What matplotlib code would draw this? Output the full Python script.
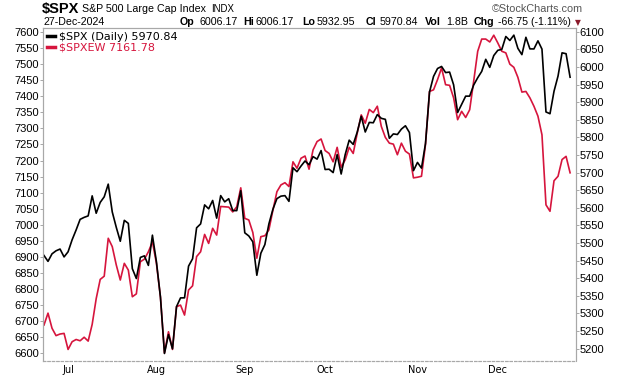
import matplotlib.pyplot as plt
import numpy as np
import pandas as pd

plt.rcParams['font.family'] = ['Liberation Sans', 'DejaVu Sans']

# trading days 21-Jun-2024 .. 27-Dec-2024
dias = pd.bdate_range('2024-06-21', '2024-12-27')
feriados = pd.to_datetime(['2024-07-04', '2024-09-02', '2024-11-28', '2024-12-25'])
dias = dias[~dias.isin(feriados)]

# $SPX close (right axis)
spx = [5464.62, 5447.87, 5469.30, 5477.90, 5482.87, 5460.48,
       5475.09, 5509.01, 5537.02, 5567.19, 5572.85, 5576.98, 5633.91, 5584.54, 5615.35, 5631.22,
       5667.20, 5588.27, 5544.59, 5505.00, 5564.41, 5555.74, 5427.13, 5399.22, 5459.10, 5463.54,
       5436.44, 5522.30,
       5446.68, 5346.56, 5186.33, 5240.03, 5199.50, 5319.31, 5344.16, 5344.39, 5434.43, 5455.21,
       5543.22, 5554.25, 5608.25, 5597.12, 5620.85, 5570.64, 5634.61, 5616.84, 5625.80, 5592.18,
       5591.96, 5648.40,
       5528.93, 5520.07, 5503.41, 5408.42, 5471.05, 5495.52, 5554.13, 5595.76, 5626.02, 5633.09,
       5634.58, 5618.26, 5713.64, 5702.55, 5718.57, 5732.93, 5722.26, 5745.37, 5738.17, 5762.48,
       5708.75, 5709.54, 5699.94, 5751.07, 5695.94, 5751.13, 5792.04, 5780.05, 5815.03, 5859.85,
       5815.26, 5842.47, 5841.47, 5864.67, 5853.98, 5851.20, 5797.42, 5809.86, 5808.12, 5823.52,
       5832.92, 5813.67, 5705.45,
       5728.80, 5712.69, 5782.76, 5929.04, 5973.10, 5995.54, 6001.35, 5983.99, 5985.38, 5949.17,
       5870.62, 5893.62, 5916.98, 5917.11, 5948.71, 5969.34, 5987.37, 6021.63, 5998.74, 6032.38,
       6047.15, 6049.88, 6086.49, 6075.11, 6090.27, 6052.85, 6034.91, 6084.19, 6051.25, 6051.09,
       6074.08, 6050.61, 5872.16, 5867.08, 5930.85, 5974.07, 6040.04, 6037.59, 5970.84]

# $SPXEW close (left axis)
spxew = [6688, 6725, 6678, 6655, 6660, 6662,
         6612, 6636, 6643, 6639, 6650, 6638, 6690, 6770, 6830, 6840,
         6958, 6932, 6875, 6828, 6880, 6859, 6776, 6785, 6885, 6893,
         6916, 6947,
         6880, 6775, 6601, 6667, 6612, 6745, 6750, 6719, 6797, 6810,
         6901, 6916, 6970, 6942, 6989, 6968, 7057, 7056, 7055, 7040,
         7056, 7115,
         7020, 7015, 6976, 6896, 6963, 6966, 6984, 7045, 7103, 7124,
         7131, 7119, 7196, 7176, 7207, 7214, 7173, 7233, 7259, 7267,
         7231, 7222, 7196, 7241, 7179, 7202, 7241, 7222, 7285, 7342,
         7316, 7359, 7349, 7369, 7306, 7272, 7254, 7251, 7218, 7254,
         7229, 7220, 7146,
         7148, 7151, 7250, 7415, 7420, 7452, 7488, 7436, 7434, 7395,
         7327, 7353, 7334, 7358, 7447, 7540, 7578, 7578, 7569, 7590,
         7566, 7540, 7535, 7500, 7490, 7459, 7413, 7415, 7395, 7369,
         7338, 7280, 7062, 7042, 7137, 7151, 7203, 7213, 7161.78]

ticks_izq = np.arange(6600, 7601, 50)
ticks_der = np.arange(5200, 6101, 50)

ROJO = '#d6153d'
GRIS = '#a8a8a8'
W, H = 620, 376

x = np.arange(len(dias))
pos_mes = [i for i in range(1, len(dias)) if dias[i].month != dias[i - 1].month]
lbl_mes = [dias[i].strftime('%b') for i in pos_mes]

fig = plt.figure(figsize=(W / 100, H / 100), dpi=100)
ax = fig.add_axes([43.3 / W, 1 - 360.5 / H, (575.7 - 43.3) / W, (360.5 - 28.3) / H])
ax2 = ax.twinx()

l_ew, = ax.plot(x, spxew, color=ROJO, lw=1.2)
l_spx, = ax2.plot(x, spx, color='black', lw=1.2)

ax.set_xlim(-0.17, 132.4)
ax.set_ylim(6577.6, 7611.5)
ax2.set_ylim(5166.4, 6109.7)

ax.set_yticks(ticks_izq)
ax2.set_yticks(ticks_der)
ax.tick_params(axis='y', length=2.2, width=0.7, color=GRIS, pad=0.8, labelsize=8)
ax2.tick_params(axis='y', length=2.2, width=0.7, color=GRIS, pad=0.8, labelsize=8)

ax.set_xticks(pos_mes)
ax.set_xticklabels(lbl_mes, family='DejaVu Sans', fontsize=7)
ax.tick_params(axis='x', length=0, pad=3)

for a in (ax, ax2):
    for s in a.spines.values():
        s.set_color(GRIS)
        s.set_linewidth(0.8)
    a.spines['bottom'].set_linestyle((0, (2, 2)))

leg = ax2.legend([l_spx, l_ew], [r'\$SPX (Daily) 5970.84', r'\$SPXEW 7161.78'],
                 loc='upper left', frameon=False, handlelength=0.7, handletextpad=0.4,
                 labelspacing=0.05, borderpad=0.1, borderaxespad=0.25,
                 prop={'family': 'DejaVu Sans', 'size': 8}, labelcolor=['black', ROJO])
for h in leg.legend_handles:
    h.set_linewidth(2.5)


def texto(px, py, s, **kw):
    fig.text(px / W, 1 - py / H, s, va='center', **kw)


# encabezado
texto(42, 9, r'\$SPX', fontsize=10.5, weight='bold')
texto(82, 9.5, 'S&P 500 Large Cap Index', fontsize=7.7)
texto(211, 9.5, 'INDX', fontsize=6.9)
texto(583, 9.5, '\u00a9StockCharts.com', fontsize=7.8, color='#555555', ha='right')

texto(43, 22, '27-Dec-2024', fontsize=7.7)
campos = [('Op', 180, '6006.17', 199), ('Hi', 243, '6006.17', 255), ('Lo', 302, '5932.95', 317),
          ('Cl', 366, '5970.84', 380), ('Vol', 425, '1.8B', 446), ('Chg', 474, '-66.75 (-1.11%)', 498)]
for et, xe, val, xv in campos:
    texto(xe, 22, et, fontsize=7.7, weight='bold')
    texto(xv, 22, val, fontsize=7.7)
texto(578, 22.5, '\u25bc', fontsize=5.5, color='#8b1a2b', ha='center', family='DejaVu Sans')

plt.savefig('out.png', dpi=100)
